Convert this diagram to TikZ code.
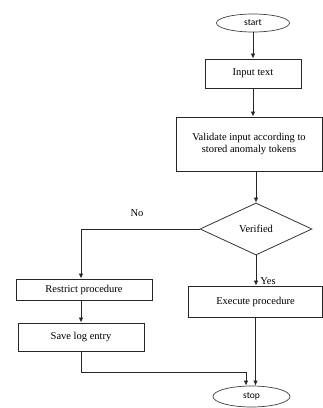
\documentclass[tikz,border=0pt]{standalone}
\usepackage{fontspec}
\setmainfont{Liberation Serif}
\newfontfamily\termfont{Carlito}
\usetikzlibrary{shapes.geometric,arrows.meta}

\begin{document}
\begin{tikzpicture}[x=1pt,y=-1pt,
		every node/.style={font=\fontsize{10.5}{12}\selectfont},
		procbox/.style={draw=black!85,line width=0.9pt,rectangle,inner sep=0pt,align=center},
		termnode/.style={draw=black!75,line width=0.7pt,ellipse,inner sep=0pt,font=\termfont\fontsize{9.5}{11}\selectfont},
		testnode/.style={draw=black!80,line width=0.8pt,diamond,inner sep=0pt,minimum width=112pt,minimum height=52pt},
		flow/.style={draw=black!85,line width=0.8pt,-{Latex[length=5pt,width=4.5pt]}}]

		\useasboundingbox (0, 0) rectangle (323, 408);

		% terminals
		\node[termnode,minimum width=73pt,minimum height=18pt] (start) at (253, 23) {start};
		\node[termnode,minimum width=77pt,minimum height=21pt] (stop) at (251.5, 396.5) {stop};

		% process boxes
		\node[procbox,minimum width=96pt,minimum height=29pt] (input) at (253, 73.5) {Input text};
		\node[procbox,minimum width=146pt,minimum height=54pt] (validate) at (249, 144) {Validate input according to\\stored anomaly tokens};
		\node[testnode] (verified) at (256, 229) {Verified};
		\node[procbox,minimum width=136pt,minimum height=21pt] (restrict) at (84, 289.5) {Restrict procedure};
		\node[procbox,minimum width=134pt,minimum height=31pt] (execute) at (255.5, 301.5) {Execute procedure};
		\node[procbox,minimum width=126pt,minimum height=28pt] (savelog) at (81, 337) {Save log entry};

		% labels
		\node (no) at (137, 213) {No};
		\node (yes) at (268, 281) {Yes};

		% connectors
		\draw[flow] (start) -- (input);
		\draw[flow] (input.south) -- (input.south |- validate.north);
		\draw[flow] (verified.north |- validate.south) -- (verified.north);
		\draw[flow] (verified.west) -| (restrict.north -| savelog.north);
		\draw[flow] (verified.south) -- (execute.north -| verified.south);
		\draw[flow] (restrict.south -| savelog.north) -- (savelog.north);
		\coordinate (turn) at (246, 372);
		\draw[flow] (savelog.south) |- (turn) -- (turn |- stop.north);
		\draw[flow] (execute.south) -- (execute.south |- stop.north);

	\end{tikzpicture}
\end{document}
